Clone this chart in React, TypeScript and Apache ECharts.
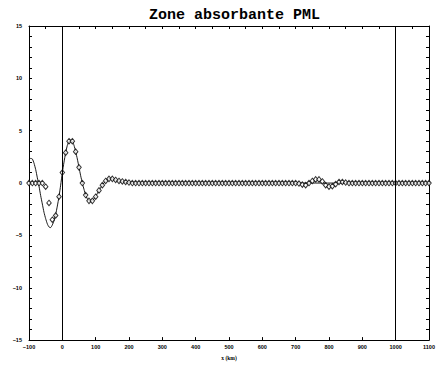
import React, { useEffect, useRef } from "react";
import * as echarts from "echarts";

const titleText = "Zone absorbante PML";
const xName = "x (km)";

// Solid line (reference solution): x (km) and amplitude
const lineX = [-100, -95, -90, -85, -80, -75, -70, -65, -60, -55, -50, -45, -40, -35, -30, -25, -20, -15, -10, -5,
  0, 5, 10, 15, 20, 25, 30, 35, 40, 45, 50, 55, 60, 65, 70, 75, 80, 85, 90, 95, 100, 110, 120, 130, 140, 150,
  160, 170, 180, 190, 200, 210, 1100];
const lineY = [2.2, 2.35, 2.3, 1.9, 1.3, 0.5, -0.3, -1.2, -2.0, -2.8, -3.4, -3.9, -4.2, -4.25, -4.0, -3.6, -3.0, -2.2, -1.3, -0.2,
  1.0, 2.0, 2.9, 3.6, 4.0, 4.1, 4.0, 3.6, 3.0, 2.3, 1.5, 0.7, 0.0, -0.6, -1.15, -1.5, -1.7, -1.8, -1.7, -1.5, -1.3, -0.7, -0.2, 0.2, 0.4, 0.4,
  0.3, 0.2, 0.12, 0.06, 0.02, 0, 0];

// Diamond markers (PML solution), one every 10 km from -100 to 1100
const markerStart = -100;
const markerStep = 10;
const markerY = [
  0, 0, 0, 0, 0, -0.35, -1.9, -3.5, -3.1, -1.3,
  1.0, 2.9, 4.0, 4.0, 3.0, 1.5, 0, -1.15, -1.7, -1.7,
  -1.3, -0.7, -0.2, 0.2, 0.4, 0.4, 0.3, 0.2, 0.15, 0.1,
  0.05, 0, 0, 0, 0, 0, 0, 0, 0, 0,
  0, 0, 0, 0, 0, 0, 0, 0, 0, 0,
  0, 0, 0, 0, 0, 0, 0, 0, 0, 0,
  0, 0, 0, 0, 0, 0, 0, 0, 0, 0,
  0, 0, 0, 0, 0, 0, 0, 0, 0, 0,
  0, -0.05, -0.15, -0.2, 0, 0.2, 0.35, 0.35, 0.15, -0.2,
  -0.35, -0.3, -0.1, 0.1, 0.1, 0.05, 0, 0, 0, 0,
  0, 0, 0, 0, 0, 0, 0, 0, 0, 0,
  0, 0, 0, 0, 0, 0, 0, 0, 0, 0,
  0,
];

const boundaries = [0, 1000];

const minus = (v: number) => String(v).replace("-", "\u2212");

export default function App() {
  const ref = useRef<HTMLDivElement>(null);
  useEffect(() => {
    if (!ref.current) return;
    const chart = echarts.init(ref.current, undefined, { renderer: "svg" });
    const lineData = lineX.map((x, i) => [x, lineY[i]]);
    const markerData = markerY.map((y, i) => [markerStart + i * markerStep, y]);
    const labelStyle = {
      fontFamily: "Liberation Sans, Arial, sans-serif",
      fontWeight: "bold" as const,
      fontSize: 5.5,
      color: "#000",
    };
    const axisLine = { show: true, onZero: false, lineStyle: { color: "#000", width: 1 } };
    const axisTick = { show: true, inside: true, length: 3, lineStyle: { color: "#000" } };
    chart.setOption({
      animation: false,
      backgroundColor: "#fff",
      title: {
        text: titleText,
        left: 144,
        top: 3,
        textStyle: {
          fontFamily: "Liberation Mono, Courier New, monospace",
          fontWeight: "bold",
          fontSize: 15,
          color: "#000",
        },
      },
      grid: { left: 29, right: 9, top: 26, bottom: 20, show: false },
      xAxis: [
        {
          type: "value",
          min: -100,
          max: 1100,
          interval: 100,
          position: "bottom",
          name: xName,
          nameLocation: "middle",
          nameGap: 14,
          nameTextStyle: {
            fontFamily: "Liberation Serif, Times New Roman, serif",
            fontWeight: "bold",
            fontSize: 5.5,
            color: "#000",
          },
          axisLine,
          axisTick,
          axisLabel: { ...labelStyle, margin: 4, formatter: minus },
          splitLine: { show: false },
        },
        {
          type: "value",
          min: -100,
          max: 1100,
          interval: 50,
          position: "top",
          axisLine,
          axisTick,
          axisLabel: { show: false },
          splitLine: { show: false },
        },
      ],
      yAxis: [
        {
          type: "value",
          min: -15,
          max: 15,
          interval: 5,
          position: "left",
          axisLine,
          axisTick,
          minorTick: { show: true, splitNumber: 5, length: 3, lineStyle: { color: "#000" } },
          axisLabel: { ...labelStyle, margin: 7, formatter: minus },
          splitLine: { show: false },
        },
        {
          type: "value",
          min: -15,
          max: 15,
          interval: 5,
          position: "right",
          axisLine,
          axisTick,
          minorTick: { show: true, splitNumber: 5, length: 3, lineStyle: { color: "#000" } },
          axisLabel: { show: false },
          splitLine: { show: false },
        },
      ],
      series: [
        {
          type: "line",
          data: lineData,
          symbol: "none",
          smooth: 0.2,
          lineStyle: { color: "#000", width: 0.9 },
          z: 2,
          markLine: {
            silent: true,
            symbol: "none",
            label: { show: false },
            lineStyle: { color: "#000", width: 1, type: "solid" },
            data: boundaries.map((b) => ({ xAxis: b })),
          },
        },
        {
          type: "scatter",
          data: markerData,
          symbol: "diamond",
          symbolSize: [4.5, 5.5],
          itemStyle: { color: "#fff", borderColor: "#000", borderWidth: 1 },
          z: 3,
        },
      ],
    });
    return () => chart.dispose();
  }, []);
  return <div ref={ref} style={{ width: 438, height: 366, position: "absolute", left: 0, top: 0 }} />;
}
